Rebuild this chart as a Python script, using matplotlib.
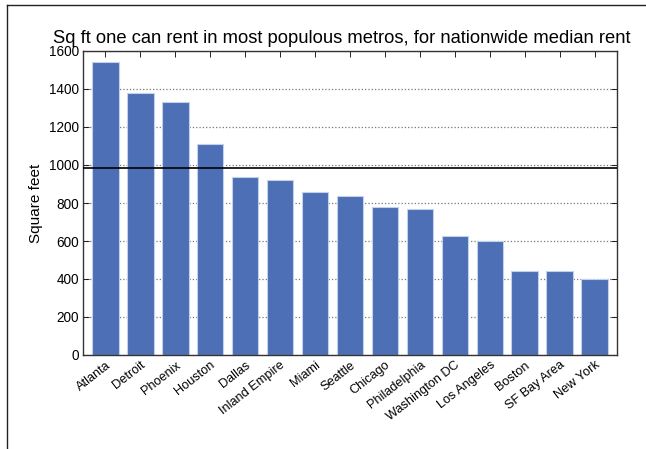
import matplotlib
matplotlib.use("Agg")
import matplotlib.pyplot as plt
from matplotlib.lines import Line2D
import numpy as np

# Data
metros = ["Atlanta", "Detroit", "Phoenix", "Houston", "Dallas", "Inland Empire",
          "Miami", "Seattle", "Chicago", "Philadelphia", "Washington DC",
          "Los Angeles", "Boston", "SF Bay Area", "New York"]
sqft = [1544, 1377, 1330, 1110, 937, 922, 857, 839, 779, 767, 628, 598, 443, 443, 398]
national_sqft = 984
yticks = [0, 200, 400, 600, 800, 1000, 1200, 1400, 1600]

plt.rcParams["font.family"] = ["Liberation Sans", "DejaVu Sans"]

fig = plt.figure(figsize=(6.46, 4.49), dpi=100)
ax = fig.add_axes([83 / 646, 1 - 355 / 449, (617 - 83) / 646, (355 - 51) / 449])

x = np.arange(len(metros))
ax.bar(x, sqft, width=0.76, color="#4C6FB5", edgecolor="#c5d0ea", linewidth=0.8, zorder=2)
ax.axhline(national_sqft, color="black", linewidth=1.2, zorder=3)

ax.set_xlim(-0.64, len(metros) - 0.36)
ax.set_ylim(0, 1600)
ax.set_yticks(yticks)
ax.set_xticks(x)
ax.set_xticklabels(metros, rotation=38, ha="right", rotation_mode="anchor", fontsize=9.2)
ax.tick_params(axis="y", labelsize=9.8)
ax.tick_params(direction="in", top=True, right=True, length=4, width=0.6, pad=3)
ax.yaxis.grid(True, linestyle=":", color="#777777", linewidth=0.9, zorder=0)
ax.set_axisbelow(True)
for s in ax.spines.values():
    s.set_color("#333333")
    s.set_linewidth(1.0)

ax.set_ylabel("Square feet", fontsize=11)
ax.set_title("Sq ft one can rent in most populous metros, for nationwide median rent",
             fontsize=13.2, pad=6, x=0.485)

# screenshot frame lines (left and top)
fig.add_artist(Line2D([7 / 646, 7 / 646], [0, 1 - 5 / 449], transform=fig.transFigure,
                      color="#222222", linewidth=1.0))
fig.add_artist(Line2D([7 / 646, 1], [1 - 5 / 449, 1 - 5 / 449], transform=fig.transFigure,
                      color="#222222", linewidth=1.0))

fig.savefig("out.png", dpi=100)
